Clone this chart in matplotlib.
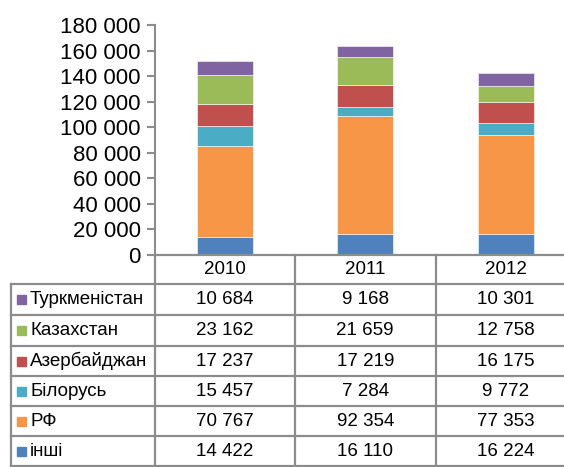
import matplotlib.pyplot as plt
from matplotlib.lines import Line2D
from matplotlib.patches import Rectangle
import numpy as np

plt.rcParams['font.family'] = ['Liberation Sans', 'DejaVu Sans']

years = ["2010", "2011", "2012"]
# series from bottom of the stack to top
series = ["інші", "РФ", "Білорусь", "Азербайджан", "Казахстан", "Туркменістан"]
inshi = [14422, 16110, 16224]
rf = [70767, 92354, 77353]
bilorus = [15457, 7284, 9772]
azerb = [17237, 17219, 16175]
kazakh = [23162, 21659, 12758]
turkmen = [10684, 9168, 10301]
values = [inshi, rf, bilorus, azerb, kazakh, turkmen]
colors = ["#4F81BD", "#F79646", "#4BACC6", "#C0504D", "#9BBB59", "#8064A2"]

W, H = 564, 467
fig = plt.figure(figsize=(W / 100, H / 100), dpi=100)

def fx(px):
    return px / W

def fy(py):
    return 1 - py / H

# plot area (right part goes past the image edge like the original)
x0, x1 = 154.5, 576
ytop, ybot = 25, 255
ax = fig.add_axes([fx(x0), fy(ybot), fx(x1) - fx(x0), fy(ytop) - fy(ybot)])

x = np.arange(len(years))
bottom = np.zeros(len(years))
for vals, col in zip(values, colors):
    ax.bar(x, vals, width=0.4, bottom=bottom, color=col, edgecolor="white", linewidth=0.4)
    bottom += np.array(vals)

ax.set_xlim(-0.5, len(years) - 0.5)
ax.set_ylim(0, 180000)
ticks = np.arange(0, 180001, 20000)
ax.set_yticks(ticks)
ax.set_yticklabels([f"{t:,}".replace(",", " ") for t in ticks], fontsize=16)
ax.set_xticks([])
gray = "#8C8C8C"
for s in ["top", "right", "bottom"]:
    ax.spines[s].set_visible(False)
ax.spines["left"].set_color(gray)
ax.spines["left"].set_linewidth(1.5)
ax.tick_params(axis="y", length=6, width=1.5, color=gray, pad=4)

# data table below the chart
col_w = (x1 - x0) / len(years)
row_lines = [284, 315, 346, 376, 406, 436, 466]
left = 11
lw = 1.6
fs = 13.5

def hline(y, xa, xb):
    fig.add_artist(Line2D([fx(xa), fx(xb)], [fy(y), fy(y)], color=gray, lw=lw))

def vline(xp, ya, yb):
    fig.add_artist(Line2D([fx(xp), fx(xp)], [fy(ya), fy(yb)], color=gray, lw=lw))

hline(ybot, x0, x1)
for y in row_lines:
    hline(y, left, x1)
vline(left, row_lines[0], row_lines[-1])
for i in range(len(years) + 1):
    vline(x0 + i * col_w, ybot, row_lines[-1])

for i, yr in enumerate(years):
    fig.text(fx(x0 + (i + 0.5) * col_w), fy((ybot + row_lines[0]) / 2), yr,
             ha="center", va="center", fontsize=fs)

rows = list(zip(series, values, colors))[::-1]
for r, (name, vals, col) in enumerate(rows):
    ya, yb = row_lines[r], row_lines[r + 1]
    yc = (ya + yb) / 2
    fig.add_artist(Rectangle((fx(17), fy(yc + 4.5)), fx(9), 9 / H, color=col,
                             transform=fig.transFigure))
    fig.text(fx(30), fy(yc), name, ha="left", va="center", fontsize=fs)
    for i, v in enumerate(vals):
        fig.text(fx(x0 + (i + 0.5) * col_w), fy(yc), f"{v:,}".replace(",", " "),
                 ha="center", va="center", fontsize=fs)

fig.savefig("out.png", dpi=100)
